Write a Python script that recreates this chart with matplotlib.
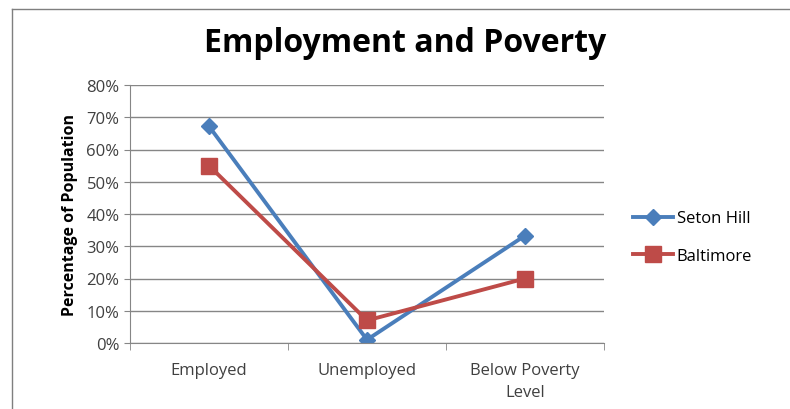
import numpy as np
import matplotlib.pyplot as plt
from matplotlib.lines import Line2D
from matplotlib.ticker import PercentFormatter

categories = ['Employed', 'Unemployed', 'Below Poverty\nLevel']
seton_hill = [67.2, 1.0, 33.3]
baltimore = [55.0, 7.0, 20.0]

blue = '#4A7EBB'
red = '#BE4B48'

plt.rcParams['font.family'] = ['Open Sans', 'DejaVu Sans']

fig = plt.figure(figsize=(7.9, 4.1), dpi=100)
ax = fig.add_axes([130 / 790, 1 - 344 / 410, 474 / 790, 258 / 410])

x = np.arange(len(categories))
ax.plot(x, seton_hill, color=blue, lw=2.8, marker='D', ms=8.5, label='Seton Hill')
ax.plot(x, baltimore, color=red, lw=2.8, marker='s', ms=11, label='Baltimore')

ax.set_ylim(0, 80)
ax.set_yticks(np.arange(0, 81, 10))
ax.yaxis.set_major_formatter(PercentFormatter(decimals=0))
ax.set_xlim(-0.5, 2.5)
ax.set_xticks(x)
ax.set_xticklabels(categories, linespacing=1.5)
ax.set_xticks([-0.5, 0.5, 1.5, 2.5], minor=True)
ax.tick_params(axis='x', which='major', length=0, pad=14, labelsize=12, colors='#404040')
ax.tick_params(axis='x', which='minor', length=5, color='#868686')
ax.tick_params(axis='y', length=4, color='#868686', labelsize=12, labelcolor='#404040')

ax.grid(axis='y', color='#868686', lw=1)
ax.set_axisbelow(True)
for s in ['top', 'right']:
    ax.spines[s].set_visible(False)
for s in ['left', 'bottom']:
    ax.spines[s].set_color('#868686')

ax.set_ylabel('Percentage of Population', fontsize=11.5, fontweight='bold', labelpad=6)
fig.text(405 / 790, 1 - 43 / 410, 'Employment and Poverty', ha='center', va='center',
         fontsize=23, fontweight='bold')

ax.legend(loc='center left', bbox_to_anchor=(1.03, 0.41), frameon=False, fontsize=12,
          handlelength=2.4, handletextpad=0.2, labelspacing=1.3)

# chart frame
fig.add_artist(Line2D([12 / 790, 12 / 790], [0, 1 - 10 / 410], transform=fig.transFigure,
                      color='#7f7f7f', lw=1))
fig.add_artist(Line2D([12 / 790, 1], [1 - 10 / 410, 1 - 10 / 410], transform=fig.transFigure,
                      color='#7f7f7f', lw=1))

fig.savefig('out.png', dpi=100)
